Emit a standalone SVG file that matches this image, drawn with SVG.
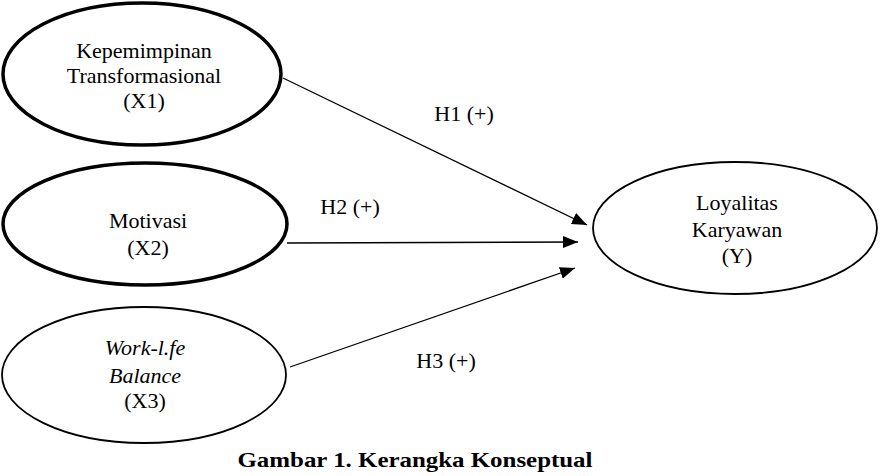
<svg xmlns="http://www.w3.org/2000/svg" width="880" height="476" viewBox="0 0 880 476">
<style>
.t{font-family:"Liberation Serif","Times New Roman",serif;font-size:22px;fill:#000;text-anchor:middle}
.i{font-style:italic}
.cap{font-weight:bold}
.thick{fill:#fff;stroke:#000;stroke-width:3.5}
.thin{fill:#fff;stroke:#000;stroke-width:1.8}
.c{stroke:#000;stroke-width:1.3;fill:none}
</style>
<defs>
<marker id="ah" markerUnits="userSpaceOnUse" markerWidth="16" markerHeight="12" refX="15" refY="6" orient="auto">
<path d="M0,0 L15,6 L0,12 Z" fill="#000"/>
</marker>
</defs>
<rect width="880" height="476" fill="#fff"/>
<g id="connectors">
<line class="c" x1="283" y1="78" x2="587" y2="225" marker-end="url(#ah)"/>
<line class="c" x1="287" y1="243" x2="578" y2="242" marker-end="url(#ah)"/>
<line class="c" x1="290" y1="367" x2="575" y2="268" marker-end="url(#ah)"/>
<text class="t" x="464" y="121">H1 (+)</text>
<text class="t" x="350" y="214">H2 (+)</text>
<text class="t" x="446" y="368">H3 (+)</text>
</g>
<g id="x1">
<ellipse class="thick" cx="142" cy="74" rx="139" ry="71"/>
<text class="t" x="144" y="58">Kepemimpinan</text>
<text class="t" x="144" y="83">Transformasional</text>
<text class="t" x="144" y="108">(X1)</text>
</g>
<g id="x2">
<ellipse class="thick" cx="145" cy="224" rx="142" ry="61"/>
<text class="t" x="148" y="228">Motivasi</text>
<text class="t" x="148" y="255">(X2)</text>
</g>
<g id="x3">
<ellipse class="thin" cx="144" cy="375" rx="142" ry="68"/>
<text class="t i" x="145" y="355">Work-l.fe</text>
<text class="t i" x="145" y="383">Balance</text>
<text class="t" x="145" y="408">(X3)</text>
</g>
<g id="y">
<ellipse class="thin" cx="735" cy="228" rx="142" ry="66"/>
<text class="t" x="737" y="210">Loyalitas</text>
<text class="t" x="737" y="237">Karyawan</text>
<text class="t" x="737" y="263">(Y)</text>
</g>
<text class="t cap" x="415" y="467" textLength="355" lengthAdjust="spacingAndGlyphs">Gambar 1. Kerangka Konseptual</text>
</svg>
